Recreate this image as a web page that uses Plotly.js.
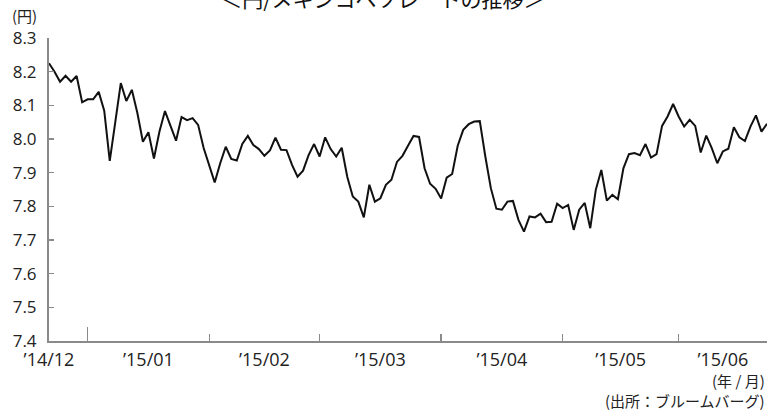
<!DOCTYPE html>
<html>
<head>
<meta charset="utf-8">
<script src="https://cdn.plot.ly/plotly-3.0.1.min.js"></script>
<style>
html,body{margin:0;padding:0;background:#fff;}
#chart{width:775px;height:411px;}
</style>
</head>
<body>
<div id="chart"></div>
<script>
// 円/メキシコペソ rate, one value per trading day ('14/12 late – '15/06)
const rates = [
  8.225, 8.200, 8.170, 8.188, 8.170, 8.187, 8.109, 8.118, 8.118, 8.140,
  8.084, 7.935, 8.050, 8.166, 8.113, 8.146, 8.077, 7.992, 8.020, 7.942,
  8.022, 8.083, 8.039, 7.995, 8.065, 8.056, 8.062, 8.042, 7.973, 7.923,
  7.871, 7.928, 7.977, 7.941, 7.936, 7.985, 8.009, 7.982, 7.970, 7.950,
  7.966, 8.004, 7.968, 7.967, 7.923, 7.888, 7.906, 7.952, 7.985, 7.948,
  8.005, 7.970, 7.948, 7.974, 7.888, 7.829, 7.814, 7.767, 7.864, 7.814,
  7.824, 7.864, 7.879, 7.932, 7.950, 7.980, 8.009, 8.006, 7.913, 7.867,
  7.852, 7.823, 7.885, 7.896, 7.980, 8.027, 8.044, 8.052, 8.053, 7.948,
  7.854, 7.793, 7.790, 7.814, 7.816, 7.760, 7.725, 7.770, 7.767, 7.778,
  7.753, 7.754, 7.808, 7.795, 7.804, 7.730, 7.790, 7.810, 7.735, 7.849,
  7.908, 7.817, 7.834, 7.821, 7.913, 7.955, 7.958, 7.952, 7.985, 7.945,
  7.955, 8.039, 8.067, 8.104, 8.067, 8.037, 8.057, 8.039, 7.960, 8.010,
  7.973, 7.928, 7.963, 7.971, 8.035, 8.005, 7.994, 8.037, 8.070, 8.022,
  8.045
];
// trading-day index of each year/month boundary
const yearBoundary = [7];
const monthBoundaries = [29, 49, 71, 93, 114];
// month labels and their trading-day index (middle of each month span)
const monthLabels = ["\u201914/12", "\u201915/01", "\u201915/02", "\u201915/03", "\u201915/04", "\u201915/05", "\u201915/06"];
const monthLabelIdx = [0, 18, 39, 60, 82, 103.5, 122];
const yTicks = [7.4, 7.5, 7.6, 7.7, 7.8, 7.9, 8.0, 8.1, 8.2, 8.3];

const dayIdx = rates.map((_, i) => i);
const xRange = [0, 130];
const axisGray = '#8a8a8a';
const textColor = '#222';
const numFont = {family: 'Open Sans, sans-serif', size: 17, color: textColor};
const xFont = {family: 'Open Sans, sans-serif', size: 18, color: textColor};
const jpFont = {family: 'Noto Sans CJK JP, sans-serif', size: 15, color: textColor};

const trace = {
  x: dayIdx, y: rates, type: 'scatter', mode: 'lines',
  line: {color: '#111', width: 2}, hoverinfo: 'skip', showlegend: false
};

const layout = {
  width: 775, height: 411,
  margin: {l: 49, r: 8, t: 38, b: 70},
  paper_bgcolor: '#fff', plot_bgcolor: '#fff',
  title: {
    text: '＜円/メキシコペソレートの推移＞',
    font: {family: 'Noto Sans CJK JP, sans-serif', size: 21, color: '#111'},
    x: 0.465, xanchor: 'center', xref: 'paper',
    yref: 'container', y: 1.0, yanchor: 'middle'
  },
  xaxis: {
    range: xRange, showgrid: false, zeroline: false,
    showline: true, linecolor: axisGray, linewidth: 2,
    tickmode: 'array', tickvals: monthBoundaries, ticktext: monthBoundaries.map(() => ''),
    ticks: 'inside', ticklen: 7, tickwidth: 1.3, tickcolor: axisGray,
    showticklabels: false, fixedrange: true
  },
  xaxis3: {
    overlaying: 'x', anchor: 'y', side: 'bottom',
    range: xRange, showgrid: false, zeroline: false, showline: false,
    tickmode: 'array', tickvals: yearBoundary, ticktext: [''],
    ticks: 'inside', ticklen: 14, tickwidth: 1.3, tickcolor: axisGray,
    showticklabels: false
  },
  xaxis2: {
    overlaying: 'x', anchor: 'y', side: 'bottom',
    range: xRange, showgrid: false, zeroline: false, showline: false,
    tickmode: 'array', tickvals: monthLabelIdx, ticktext: monthLabels,
    ticks: '', tickfont: xFont, ticklabelstandoff: 6
  },
  yaxis: {
    range: [7.4, 8.3], showgrid: false, zeroline: false,
    showline: true, linecolor: axisGray, linewidth: 2,
    tickmode: 'array', tickvals: yTicks, ticktext: yTicks.map(v => v.toFixed(1)),
    ticks: 'inside', ticklen: 5, tickwidth: 1.3, tickcolor: axisGray,
    tickfont: numFont, ticklabelstandoff: 7, fixedrange: true
  },
  annotations: [
    {text: '(円)', xref: 'paper', yref: 'paper', x: -0.034, y: 1.075, xanchor: 'center', yanchor: 'middle', showarrow: false, font: jpFont},
    {text: '(年 / 月)', xref: 'paper', yref: 'paper', x: 1.0, y: -0.13, xanchor: 'right', yanchor: 'middle', showarrow: false, font: jpFont},
    {text: '(出所：ブルームバーグ)', xref: 'paper', yref: 'paper', x: 1.0, y: -0.196, xanchor: 'right', yanchor: 'middle', showarrow: false, font: jpFont}
  ]
};

const traces = [trace,
  {x: xRange, y: [null, null], xaxis: 'x2', yaxis: 'y', type: 'scatter', mode: 'lines', showlegend: false, hoverinfo: 'skip'},
  {x: xRange, y: [null, null], xaxis: 'x3', yaxis: 'y', type: 'scatter', mode: 'lines', showlegend: false, hoverinfo: 'skip'}
];

Plotly.newPlot('chart', traces, layout, {staticPlot: true, displayModeBar: false});
</script>
</body>
</html>
